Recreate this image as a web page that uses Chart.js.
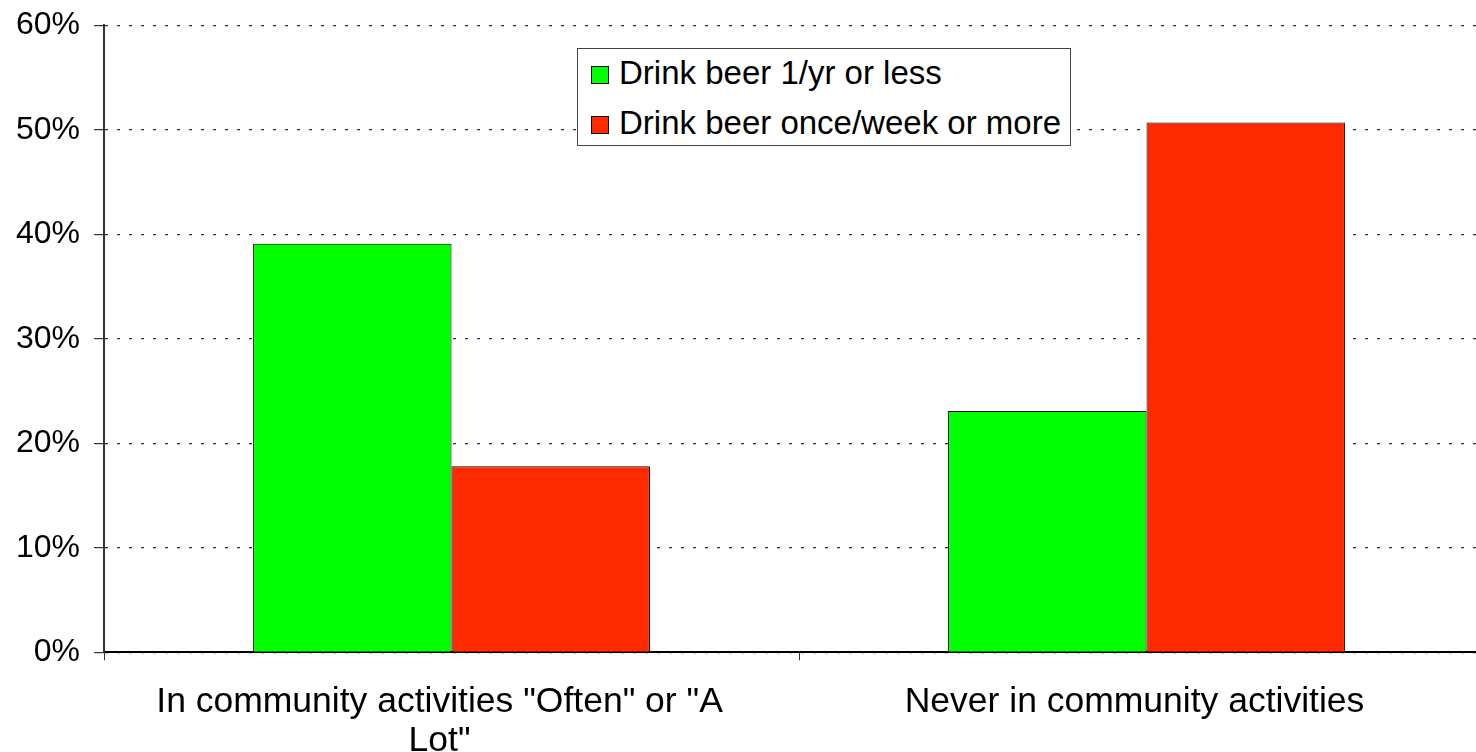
<!DOCTYPE html>
<html>
<head>
<meta charset="utf-8">
<script src="https://cdn.jsdelivr.net/npm/chart.js@4.4.0/dist/chart.umd.min.js"></script>
<style>
  html, body { margin: 0; padding: 0; background: #fff; overflow: hidden; }
  #wrap { position: relative; width: 1476px; height: 752px; overflow: hidden; }
  #c { position: absolute; left: 0; top: -8px; }
  #legend {
    position: absolute; left: 577px; top: 48px; width: 492px; height: 96px;
    border: 1px solid #444; background: #fff;
    font-family: "Liberation Sans", Arial, sans-serif; font-size: 33px; color: #000;
  }
  #legend div { position: absolute; left: 13px; height: 36px; line-height: 36px; white-space: nowrap; }
  #legend span.sw { display: inline-block; width: 16px; height: 16px; border: 1px solid #000; margin-right: 10px; vertical-align: 0px; }
</style>
</head>
<body>
<div id="wrap">
  <canvas id="c" width="1494" height="791"></canvas>
  <div id="legend"></div>
</div>
<script>
const categories = [['In community activities "Often" or "A', 'Lot"'], 'Never in community activities'];
const seriesNames = ['Drink beer 1/yr or less', 'Drink beer once/week or more'];
// values per category: [often/a lot, never]
const lowDrinkers = [39.1, 23.1];
const weeklyDrinkers = [17.8, 50.7];
const seriesColors = ['#00ff00', '#ff2a00'];

const legend = document.getElementById('legend');
seriesNames.forEach((name, i) => {
  const row = document.createElement('div');
  row.style.top = (6 + i * 50) + 'px';
  row.innerHTML = '<span class="sw" style="background:' + seriesColors[i] + '"></span>';
  row.appendChild(document.createTextNode(name));
  legend.appendChild(row);
});

const font = { family: '"Liberation Sans", Arial, sans-serif' };

new Chart(document.getElementById('c'), {
  type: 'bar',
  data: {
    labels: categories,
    datasets: [
      { label: seriesNames[0], data: lowDrinkers, backgroundColor: seriesColors[0], borderColor: '#000', borderWidth: 1 },
      { label: seriesNames[1], data: weeklyDrinkers, backgroundColor: seriesColors[1], borderColor: '#000', borderWidth: 1 }
    ]
  },
  options: {
    responsive: false,
    animation: false,
    layout: { padding: { left: 2, top: 0, right: 0, bottom: 0 } },
    datasets: { bar: { categoryPercentage: 0.571, barPercentage: 1.0 } },
    plugins: { legend: { display: false }, tooltip: { enabled: false } },
    scales: {
      x: {
        offset: true,
        grid: { offset: true, drawOnChartArea: false, tickLength: 8, color: '#333' },
        border: { color: '#000', width: 2 },
        ticks: { color: '#000', font: { ...font, size: 35.5, lineHeight: 1.08 }, padding: 23, labelOffset: -12, maxRotation: 0 }
      },
      y: {
        min: 0, max: 60,
        ticks: { stepSize: 10, color: '#000', font: { ...font, size: 32 }, padding: 14, callback: v => v + '%' },
        grid: { color: '#333', tickLength: 10, lineWidth: 1.2 },
        border: { color: '#333', width: 2, dash: [3, 9] }
      }
    }
  }
});
</script>
</body>
</html>
